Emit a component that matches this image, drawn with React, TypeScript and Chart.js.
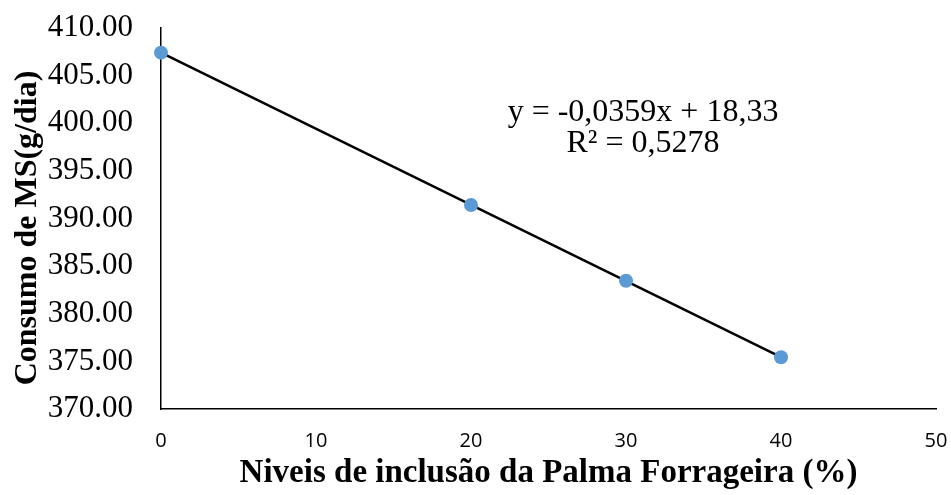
import React, { useEffect, useRef } from "react";
import { Chart, registerables } from "chart.js";

Chart.register(...registerables);

const levels = [0, 20, 30, 40];
const consumo = [407.41, 391.42, 383.47, 375.43];
const yTicks = [370, 375, 380, 385, 390, 395, 400, 405, 410];
const xTicks = [0, 10, 20, 30, 40, 50];
const equationLines = ["y = -0,0359x + 18,33", "R² = 0,5278"];
const xTitle = "Niveis de inclusão da Palma Forrageira (%)";
const yTitle = "Consumo de MS(g/dia)";

function regression(xs: number[], ys: number[]) {
  const n = xs.length;
  const mx = xs.reduce((a, b) => a + b, 0) / n;
  const my = ys.reduce((a, b) => a + b, 0) / n;
  let sxy = 0, sxx = 0;
  for (let i = 0; i < n; i++) {
    sxy += (xs[i] - mx) * (ys[i] - my);
    sxx += (xs[i] - mx) * (xs[i] - mx);
  }
  const slope = sxy / sxx;
  return { slope, intercept: my - slope * mx };
}

const textPlugin = {
  id: "texts",
  afterDraw(chart: any) {
    const ctx = chart.ctx;
    ctx.save();
    ctx.font = "32px 'Liberation Serif', 'Times New Roman', serif";
    ctx.fillStyle = "#000";
    ctx.textAlign = "center";
    ctx.textBaseline = "middle";
    ctx.fillText(equationLines[0], 643, 113);
    ctx.fillText(equationLines[1], 643, 144);
    ctx.restore();

    ctx.save();
    ctx.font = "bold 32px 'Liberation Serif', 'Times New Roman', serif";
    ctx.fillStyle = "#000";
    ctx.textAlign = "center";
    ctx.textBaseline = "middle";
    ctx.translate(28, 228);
    ctx.rotate(-Math.PI / 2);
    ctx.fillText(yTitle, 0, 0);
    ctx.restore();
  },
};

export default function App() {
  const ref = useRef<HTMLCanvasElement>(null);
  useEffect(() => {
    if (!ref.current) return;
    const { slope, intercept } = regression(levels, consumo);
    const xMin = Math.min(...levels);
    const xMax = Math.max(...levels);
    const chart = new Chart(ref.current, {
      type: "scatter",
      data: {
        datasets: [
          {
            type: "line",
            data: [
              { x: xMin, y: intercept + slope * xMin },
              { x: xMax, y: intercept + slope * xMax },
            ],
            borderColor: "#000",
            borderWidth: 2.5,
            pointRadius: 0,
            fill: false,
            clip: false,
            order: 2,
          } as any,
          {
            data: levels.map((x, i) => ({ x, y: consumo[i] })),
            backgroundColor: "#5B9BD5",
            borderColor: "#5B9BD5",
            borderWidth: 0,
            pointRadius: 7,
            clip: false,
            order: 1,
          } as any,
        ],
      },
      options: {
        animation: false,
        responsive: false,
        maintainAspectRatio: false,
        layout: { padding: { top: 28, right: 15, bottom: 0, left: 0 } },
        plugins: { legend: { display: false }, tooltip: { enabled: false } },
        scales: {
          x: {
            type: "linear",
            min: xTicks[0],
            max: xTicks[xTicks.length - 1],
            afterBuildTicks: (s: any) => {
              s.ticks = xTicks.map((v) => ({ value: v }));
            },
            afterFit: (s: any) => {
              s.height = 86;
              s.paddingLeft = 0;
              s.paddingRight = 0;
            },
            grid: { display: false, drawTicks: false },
            border: { display: true, color: "#000", width: 1.5 },
            ticks: {
              padding: 20,
              color: "#000",
              font: { family: "'Open Sans', 'Liberation Sans', Arial, sans-serif", size: 20 },
            },
            title: {
              display: true,
              text: xTitle,
              color: "#000",
              padding: { top: 0, bottom: 2 },
              font: { family: "'Liberation Serif', 'Times New Roman', serif", size: 33, weight: "bold" },
            },
          },
          y: {
            type: "linear",
            min: yTicks[0],
            max: yTicks[yTicks.length - 1],
            afterBuildTicks: (s: any) => {
              s.ticks = yTicks.map((v) => ({ value: v }));
            },
            afterFit: (s: any) => {
              s.width = 161;
              s.paddingTop = 0;
              s.paddingBottom = 0;
            },
            grid: { display: false, drawTicks: false },
            border: { display: true, color: "#000", width: 1.5 },
            ticks: {
              padding: 28,
              color: "#000",
              callback: (v: any) => Number(v).toFixed(2),
              font: { family: "'Liberation Serif', 'Times New Roman', serif", size: 31 },
            },
            title: { display: false },
          },
        },
      },
      plugins: [textPlugin],
    });
    return () => chart.destroy();
  }, []);
  return (
    <div style={{ position: "fixed", left: 0, top: 0, width: 951, height: 495, background: "#fff" }}>
      <canvas ref={ref} width={951} height={495} style={{ display: "block" }} />
    </div>
  );
}
